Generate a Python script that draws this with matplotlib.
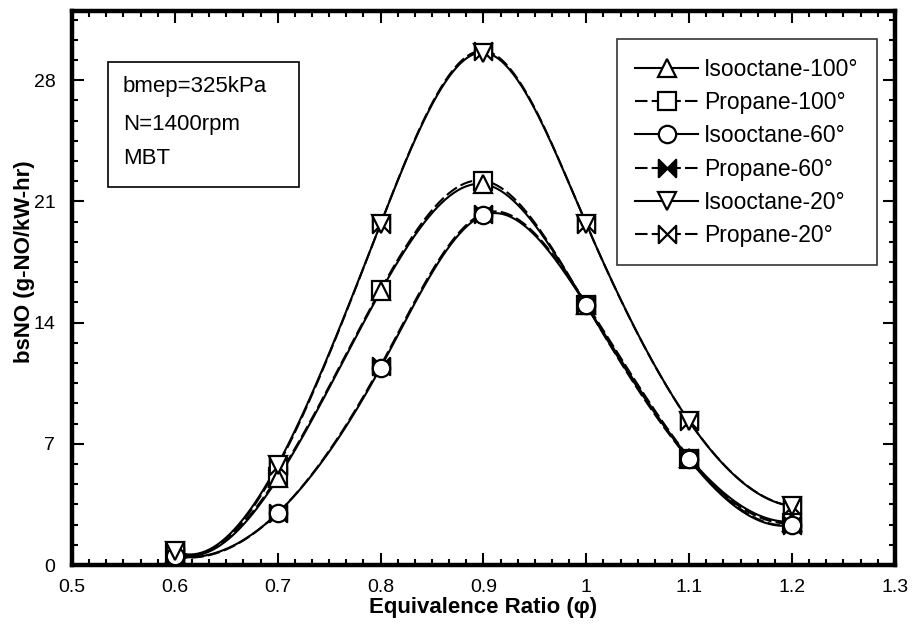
import numpy as np
import matplotlib
matplotlib.use("Agg")
import matplotlib.pyplot as plt
from matplotlib.path import Path
from matplotlib.patches import Rectangle
from matplotlib.ticker import MultipleLocator

plt.rcParams['font.family'] = ['Liberation Sans', 'DejaVu Sans']

# --- data ---
phi = [0.6, 0.7, 0.8, 0.9, 1.0, 1.1, 1.2]
iso_100 = [0.7, 5.0, 15.8, 22.0, 15.0, 6.2, 2.5]
pro_100 = [0.7, 5.1, 15.9, 22.2, 15.0, 6.1, 2.4]
iso_60 = [0.5, 3.0, 11.4, 20.2, 15.0, 6.1, 2.3]
pro_60 = [0.5, 3.0, 11.5, 20.3, 15.1, 6.2, 2.3]
iso_20 = [0.8, 5.8, 19.7, 29.6, 19.7, 8.3, 3.4]
pro_20 = [0.8, 5.7, 19.7, 29.7, 19.7, 8.3, 3.4]

labels = ['Isooctane-100°', 'Propane-100°', 'Isooctane-60°',
          'Propane-60°', 'Isooctane-20°', 'Propane-20°']
notes = ['bmep=325kPa', 'N=1400rpm', 'MBT']


def spline_curve(x, y, n=300):
    # not-a-knot cubic spline, used only to draw the smooth curve
    x = np.asarray(x, float)
    y = np.asarray(y, float)
    k = len(x)
    h = np.diff(x)
    A = np.zeros((k, k))
    b = np.zeros(k)
    A[0, :3] = [-h[1], h[0] + h[1], -h[0]]
    A[-1, -3:] = [-h[-1], h[-2] + h[-1], -h[-2]]
    for i in range(1, k - 1):
        A[i, i - 1] = h[i - 1]
        A[i, i] = 2 * (h[i - 1] + h[i])
        A[i, i + 1] = h[i]
        b[i] = 3 * ((y[i + 1] - y[i]) / h[i] - (y[i] - y[i - 1]) / h[i - 1])
    c = np.linalg.solve(A, b)
    xs = np.linspace(x[0], x[-1], n)
    idx = np.clip(np.searchsorted(x, xs) - 1, 0, k - 2)
    dx = xs - x[idx]
    bb = (y[idx + 1] - y[idx]) / h[idx] - h[idx] * (2 * c[idx] + c[idx + 1]) / 3
    dd = (c[idx + 1] - c[idx]) / (3 * h[idx])
    ys = y[idx] + bb * dx + c[idx] * dx ** 2 + dd * dx ** 3
    return xs, ys


bowtie = Path([(-0.5, -0.5), (0.5, 0.5), (0.5, -0.5), (-0.5, 0.5), (-0.5, -0.5)],
              [Path.MOVETO, Path.LINETO, Path.LINETO, Path.LINETO, Path.CLOSEPOLY])

series = [
    (iso_100, '-', '^', 'white', 5),
    (pro_100, (0, (6, 2)), 's', 'white', 4),
    (iso_60, '-', 'o', 'white', 5),
    (pro_60, (0, (6, 2)), bowtie, 'black', 4),
    (iso_20, '-', 'v', 'white', 5),
    (pro_20, (0, (6, 2)), bowtie, 'white', 4),
]

fig = plt.figure(figsize=(9.15, 6.25), dpi=100)
ax = fig.add_axes([0.0787, 0.096, 0.8993, 0.8864])

lw = 1.5
ms = 12.5
for (vals, ls, mk, fc, z), lab in zip(series, labels):
    xs, ys = spline_curve(phi, vals)
    ax.plot(xs, ys, color='black', linestyle=ls, linewidth=lw, zorder=2)
    ax.plot(phi, vals, linestyle='none', marker=mk, markersize=ms,
            markerfacecolor=fc, markeredgecolor='black', markeredgewidth=1.6,
            zorder=z)
    # proxy for legend
    ax.plot([], [], color='black', linestyle=ls, linewidth=lw, marker=mk,
            markersize=ms, markerfacecolor=fc, markeredgecolor='black',
            markeredgewidth=1.6, label=lab)

ax.set_xlim(0.5, 1.3)
ax.set_ylim(0, 32)
ax.xaxis.set_major_locator(MultipleLocator(0.1))
ax.xaxis.set_minor_locator(MultipleLocator(0.1 / 6))
ax.yaxis.set_major_locator(MultipleLocator(7))
ax.yaxis.set_minor_locator(MultipleLocator(7 / 6))
ax.set_xticklabels([f'{v:g}' for v in np.round(ax.get_xticks(), 1)])

ax.tick_params(which='both', direction='in', top=True, right=True, width=1.5)
ax.tick_params(which='major', length=8.5, labelsize=14)
ax.tick_params(axis='x', which='major', pad=10)
ax.tick_params(axis='y', which='major', pad=12)
ax.tick_params(which='minor', length=4.5)
for sp in ax.spines.values():
    sp.set_linewidth(3.2)

ax.set_xlabel('Equivalence Ratio (φ)', fontsize=16, fontweight='bold')
ax.xaxis.set_label_coords(0.5, -0.058)
ax.set_ylabel('bsNO (g-NO/kW-hr)', fontsize=16, fontweight='bold')
ax.yaxis.set_label_coords(-0.045, 0.547)

leg = ax.legend(loc='upper right', bbox_to_anchor=(0.978, 0.949), borderaxespad=0,
                fontsize=16.5, handlelength=2.75, handletextpad=0.25, borderpad=0.8,
                labelspacing=0.45, fancybox=False, frameon=True, edgecolor='black')
leg.get_frame().set_linewidth(1.2)

ax.add_patch(Rectangle((0.0437, 0.682), 0.232, 0.226, transform=ax.transAxes,
                       fill=False, edgecolor='black', linewidth=1.2, zorder=6))
for t, yy in zip(notes, [0.863, 0.796, 0.733]):
    ax.text(0.062, yy, t, transform=ax.transAxes, fontsize=16, va='center')

fig.savefig('out.png', dpi=100)
